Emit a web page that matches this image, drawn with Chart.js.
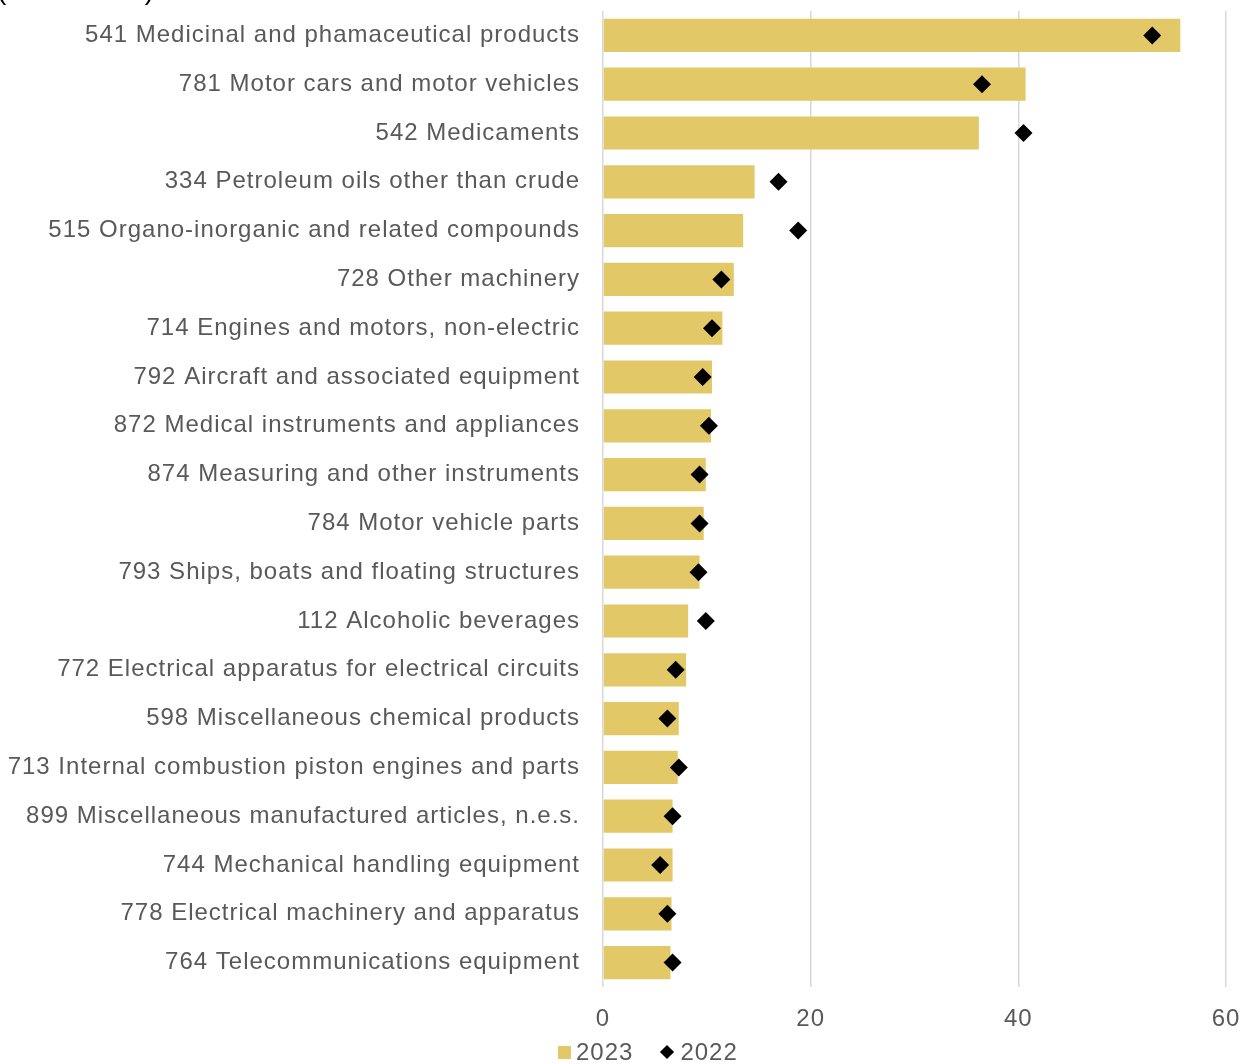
<!DOCTYPE html>
<html>
<head>
<meta charset="utf-8">
<script src="https://cdn.jsdelivr.net/npm/chart.js@4.4.1/dist/chart.umd.min.js"></script>
<style>
  html, body { margin: 0; padding: 0; background: #ffffff; }
  #wrap { width: 1242px; height: 1064px; position: relative; overflow: hidden; }
  #legend {
    position: absolute; left: 558px; top: 1037px; height: 30px;
    display: flex; align-items: center;
    font-family: 'Liberation Sans', Arial, sans-serif; font-size: 24px;
    letter-spacing: 1px; color: #595959; white-space: nowrap;
  }
  #legend .item { display: flex; align-items: center; margin-right: 27px; }
  #legend .sw { display: inline-block; margin-right: 5px; }
  #legend .sq { width: 13px; height: 13px; }
  #legend .dm { width: 10px; height: 10px; transform: rotate(45deg); margin-left: 2px; margin-right: 8px; }
</style>
</head>
<body>
<div id="wrap">
  <canvas id="c" width="1242" height="1064"></canvas>
  <div id="legend"></div>
</div>
<script>
// Product categories (SITC code and description)
const categories = [
  "541 Medicinal and phamaceutical products",
  "781 Motor cars and motor vehicles",
  "542 Medicaments",
  "334 Petroleum oils other than crude",
  "515 Organo-inorganic and related compounds",
  "728 Other machinery",
  "714 Engines and motors, non-electric",
  "792 Aircraft and associated equipment",
  "872 Medical instruments and appliances",
  "874 Measuring and other instruments",
  "784 Motor vehicle parts",
  "793 Ships, boats and floating structures",
  "112 Alcoholic beverages",
  "772 Electrical apparatus for electrical circuits",
  "598 Miscellaneous chemical products",
  "713 Internal combustion piston engines and parts",
  "899 Miscellaneous manufactured articles, n.e.s.",
  "744 Mechanical handling equipment",
  "778 Electrical machinery and apparatus",
  "764 Telecommunications equipment"
];

// Values for 2023 (bars)
const values2023 = [55.6, 40.7, 36.2, 14.6, 13.5, 12.6, 11.5, 10.5, 10.4, 9.9,
                    9.7, 9.3, 8.2, 8.0, 7.3, 7.2, 6.7, 6.7, 6.6, 6.5];

// Values for 2022 (diamond markers)
const values2022 = [52.9, 36.5, 40.5, 16.9, 18.8, 11.4, 10.5, 9.6, 10.2, 9.3,
                    9.3, 9.2, 9.9, 7.0, 6.2, 7.3, 6.7, 5.5, 6.2, 6.7];

// Value axis ticks
const xTicks = [0, 20, 40, 60];

const FONT = "'Liberation Sans', Arial, sans-serif";
const TEXT = "#595959";
const GOLD = "#E3C868";

// Slightly loosened letter spacing for all canvas text
const spacing = {
  id: 'spacing',
  beforeDraw(chart) { chart.ctx.letterSpacing = '1px'; }
};

// Unit caption in the top-left corner
const unitCaption = {
  id: 'unitCaption',
  afterDraw(chart) {
    const ctx = chart.ctx;
    ctx.save();
    ctx.letterSpacing = '0px';
    ctx.font = "28px " + FONT;
    ctx.fillStyle = "#000000";
    ctx.textBaseline = "alphabetic";
    ctx.textAlign = "left";
    ctx.fillText("(EUR billion)", -3, -1);
    ctx.restore();
  }
};

const chart = new Chart(document.getElementById('c'), {
  type: 'bar',
  data: {
    labels: categories,
    datasets: [
      {
        label: '2023',
        data: values2023,
        backgroundColor: GOLD,
        borderWidth: 0,
        barPercentage: 0.68,
        categoryPercentage: 1.0,
        order: 2
      },
      {
        type: 'line',
        label: '2022',
        data: values2022,
        indexAxis: 'y',
        showLine: false,
        pointStyle: 'rectRot',
        pointRadius: 9,
        pointHoverRadius: 9,
        pointBackgroundColor: '#000000',
        pointBorderColor: '#000000',
        pointBorderWidth: 0,
        backgroundColor: '#000000',
        borderColor: '#000000',
        order: 1
      }
    ]
  },
  options: {
    indexAxis: 'y',
    responsive: false,
    animation: false,
    layout: { padding: { left: 0, right: 16, top: 11, bottom: 32 } },
    scales: {
      x: {
        min: 0,
        max: 60,
        afterBuildTicks(axis) { axis.ticks = xTicks.map(v => ({ value: v })); },
        afterFit(axis) { axis.height = 45; axis.paddingLeft = 0; axis.paddingRight = 0; },
        grid: { color: '#d9d9d9', lineWidth: 1.5, drawTicks: false },
        border: { display: false },
        ticks: {
          color: TEXT,
          font: { family: FONT, size: 24 },
          padding: 18
        }
      },
      y: {
        afterFit(axis) { axis.width = 603; axis.paddingTop = 0; axis.paddingBottom = 0; },
        grid: { display: false },
        border: { display: false },
        ticks: {
          color: TEXT,
          font: { family: FONT, size: 24 },
          padding: 15,
          autoSkip: false
        }
      }
    },
    plugins: {
      legend: { display: false },
      tooltip: { enabled: false }
    }
  },
  plugins: [spacing, unitCaption]
});

// Legend built from the chart's datasets
const legendEl = document.getElementById('legend');
chart.data.datasets.forEach((ds) => {
  const item = document.createElement('span');
  item.className = 'item';
  const sw = document.createElement('span');
  const isMarker = ds.type === 'line';
  sw.className = 'sw ' + (isMarker ? 'dm' : 'sq');
  sw.style.background = isMarker ? ds.pointBackgroundColor : ds.backgroundColor;
  const txt = document.createElement('span');
  txt.textContent = ds.label;
  item.appendChild(sw);
  item.appendChild(txt);
  legendEl.appendChild(item);
});
</script>
</body>
</html>
